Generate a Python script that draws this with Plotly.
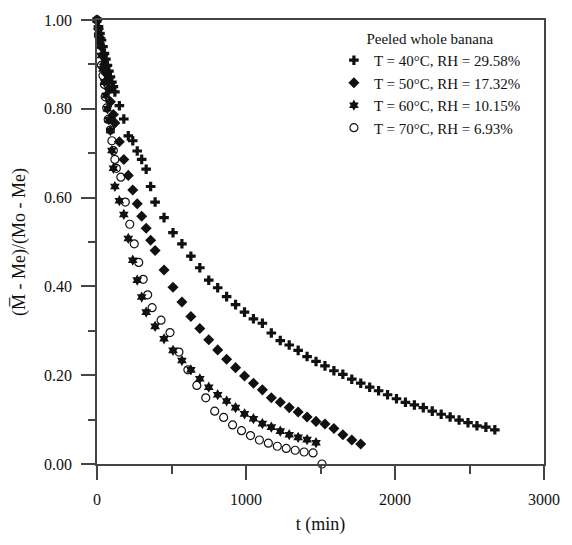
import plotly.graph_objects as go

# 40 °C, RH = 29.58 %
t40 = [0, 10, 20, 30, 40, 50, 60, 70, 80, 90, 100, 110, 120, 150, 180, 210, 240, 270, 300, 330,
       360, 390, 450, 510, 570, 630, 690, 750, 810, 870, 930, 990, 1050, 1110, 1170, 1230, 1290,
       1350, 1410, 1470, 1530, 1590, 1650, 1710, 1770, 1830, 1890, 1950, 2010, 2070, 2130, 2190,
       2250, 2310, 2370, 2430, 2490, 2550, 2610, 2670]
v40 = [1.0, 0.985, 0.97, 0.955, 0.94, 0.925, 0.912, 0.898, 0.885, 0.872, 0.86, 0.85, 0.838, 0.807,
       0.777, 0.739, 0.728, 0.705, 0.686, 0.664, 0.625, 0.590, 0.555, 0.521, 0.496, 0.468, 0.442,
       0.414, 0.397, 0.377, 0.359, 0.342, 0.327, 0.317, 0.295, 0.278, 0.268, 0.256, 0.242, 0.231,
       0.221, 0.210, 0.202, 0.191, 0.182, 0.173, 0.165, 0.156, 0.147, 0.139, 0.133, 0.127, 0.119,
       0.112, 0.106, 0.099, 0.093, 0.086, 0.083, 0.077]

# 50 °C, RH = 17.32 %
t50 = [0, 10, 20, 30, 40, 50, 60, 70, 80, 90, 110, 120, 150, 180, 210, 240, 270, 300, 330, 360,
       390, 450, 510, 570, 630, 690, 750, 810, 870, 930, 990, 1050, 1110, 1170, 1230, 1290, 1350,
       1410, 1470, 1530, 1590, 1650, 1710, 1770]
v50 = [1.0, 0.98, 0.96, 0.94, 0.92, 0.90, 0.88, 0.862, 0.845, 0.816, 0.787, 0.768, 0.726, 0.686,
       0.650, 0.617, 0.586, 0.558, 0.531, 0.504, 0.481, 0.437, 0.398, 0.365, 0.332, 0.305, 0.280,
       0.257, 0.236, 0.217, 0.198, 0.182, 0.167, 0.149, 0.139, 0.127, 0.117, 0.106, 0.096, 0.090,
       0.080, 0.066, 0.054, 0.045]

# 60 °C, RH = 10.15 %
t60 = [0, 10, 20, 30, 40, 50, 60, 70, 80, 90, 100, 110, 120, 150, 180, 210, 240, 270, 300, 330,
       390, 450, 510, 570, 630, 690, 750, 810, 870, 930, 990, 1050, 1110, 1170, 1230, 1290, 1350,
       1410, 1470]
v60 = [1.0, 0.975, 0.95, 0.92, 0.89, 0.86, 0.83, 0.80, 0.775, 0.751, 0.706, 0.666, 0.625, 0.593,
       0.562, 0.508, 0.459, 0.414, 0.376, 0.342, 0.310, 0.282, 0.256, 0.233, 0.212, 0.192, 0.173,
       0.156, 0.142, 0.127, 0.113, 0.102, 0.091, 0.083, 0.074, 0.066, 0.060, 0.055, 0.048]

# 70 °C, RH = 6.93 %
t70 = [0, 10, 20, 30, 40, 50, 55, 65, 75, 90, 100, 110, 120, 130, 160, 190, 220, 250, 280, 310,
       340, 370, 430, 490, 550, 610, 670, 730, 790, 850, 910, 970, 1030, 1090, 1150, 1210, 1270,
       1330, 1390, 1450, 1510]
v70 = [1.0, 0.965, 0.93, 0.898, 0.875, 0.855, 0.827, 0.802, 0.776, 0.752, 0.728, 0.706, 0.686,
       0.666, 0.646, 0.590, 0.540, 0.496, 0.454, 0.416, 0.381, 0.352, 0.324, 0.296, 0.252, 0.212,
       0.177, 0.149, 0.119, 0.105, 0.088, 0.075, 0.064, 0.054, 0.047, 0.040, 0.035, 0.031, 0.027,
       0.025, 0.000]

names = ["T = 40°C, RH = 29.58%", "T = 50°C, RH = 17.32%",
         "T = 60°C, RH = 10.15%", "T = 70°C, RH = 6.93%"]
legend_title = "Peeled whole banana"
x_title = "t (min)"
y_title = "(M\u0305 - Me)/(Mo - Me)"
x_ticks = [0, 1000, 2000, 3000]
y_ticks = [0.0, 0.2, 0.4, 0.6, 0.8, 1.0]

FONT = "Liberation Serif"
INK = "#111111"

series = [
    (t40, v40, dict(symbol="cross", size=8, color=INK)),
    (t50, v50, dict(symbol="diamond", size=8.5, color=INK)),
    (t60, v60, dict(symbol="hexagram", size=8.5, color=INK)),
    (t70, v70, dict(symbol="circle-open", size=8, color=INK, line=dict(width=1.2, color=INK))),
]

fig = go.Figure()
for (tx, vy, mk), nm in zip(series, names):
    assert len(tx) == len(vy)
    fig.add_trace(go.Scatter(x=tx, y=vy, mode="markers", name=nm, marker=mk,
                             cliponaxis=False))

axis_common = dict(
    showline=True, linecolor="#444444", linewidth=1.5, mirror=True,
    ticks="outside", tickcolor="#444444", tickwidth=1.5,
    showgrid=False, zeroline=False,
    tickfont=dict(family=FONT, size=16, color=INK),
)

fig.update_xaxes(
    range=[0, 3000], tickvals=x_ticks, tickformat="d", ticklen=14,
    minor=dict(dtick=500, ticklen=8, ticks="outside", tickcolor="#444444", tickwidth=1.5),
    title=dict(text=x_title, font=dict(family=FONT, size=18, color=INK), standoff=10),
    ticklabelstandoff=6,
    **axis_common,
)
fig.update_yaxes(
    range=[0, 1], tickvals=y_ticks, tickformat=".2f", ticklen=14,
    minor=dict(dtick=0.1, ticklen=7, ticks="outside", tickcolor="#444444", tickwidth=1.5),
    title=dict(text=y_title, font=dict(family=FONT, size=18, color=INK), standoff=14),
    ticklabelstandoff=6,
    **axis_common,
)

fig.update_layout(
    width=572, height=545,
    margin=dict(l=97, r=25, t=12, b=81),
    paper_bgcolor="white", plot_bgcolor="white",
    font=dict(family=FONT, color=INK),
    showlegend=True,
    legend=dict(
        title=dict(text=legend_title, side="top center", font=dict(family=FONT, size=15)),
        font=dict(family=FONT, size=15, color=INK),
        x=0.53, y=0.99, xanchor="left", yanchor="top",
        bgcolor="rgba(0,0,0,0)", tracegroupgap=0, itemsizing="trace",
    ),
)

fig.write_html("out.html")
